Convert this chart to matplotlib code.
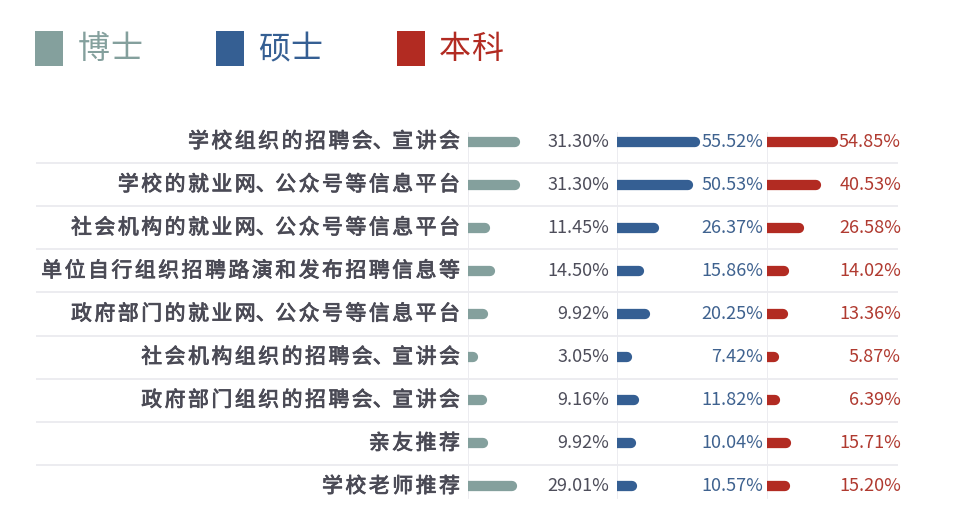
import matplotlib
matplotlib.use("Agg")
import matplotlib.pyplot as plt
from matplotlib.patches import Rectangle
import matplotlib.transforms as mtransforms
import matplotlib.patheffects as pe

plt.rcParams['font.family'] = ['Noto Sans CJK SC', 'DejaVu Sans']

categories = ["学校组织的招聘会、宣讲会", "学校的就业网、公众号等信息平台", "社会机构的就业网、公众号等信息平台",
              "单位自行组织招聘路演和发布招聘信息等", "政府部门的就业网、公众号等信息平台", "社会机构组织的招聘会、宣讲会",
              "政府部门组织的招聘会、宣讲会", "亲友推荐", "学校老师推荐"]
series_names = ["博士", "硕士", "本科"]
boshi = [31.30, 31.30, 11.45, 14.50, 9.92, 3.05, 9.16, 9.92, 29.01]
shuoshi = [55.52, 50.53, 26.37, 15.86, 20.25, 7.42, 11.82, 10.04, 10.57]
benke = [54.85, 40.53, 26.58, 14.02, 13.36, 5.87, 6.39, 15.71, 15.20]

bar_colors = ["#84a09d", "#355f93", "#b22b22"]
val_colors = ["#4d4d5a", "#3f628f", "#b03a30"]
label_color = "#4a4a55"
grid_color = "#ebebef"

W, H = 960, 520
fig = plt.figure(figsize=(W / 100, H / 100), dpi=100)

def fx(x):
    return x / W

def fy(y):
    return 1 - y / H

n = len(categories)
top, bottom = 120, 508

# background axes for separators and labels
bg = fig.add_axes([fx(36), fy(bottom), fx(898) - fx(36), fy(top) - fy(bottom)])
bg.set_xlim(0, 1)
bg.set_ylim(n - 0.5, -0.5)
bg.axis('off')
for i in range(n - 1):
    bg.axhline(i + 0.5, color=grid_color, lw=1.3, zorder=0)

# category labels with letter spacing (per-character placement);
# the mark "、" is kept together with the character before it
trans = mtransforms.blended_transform_factory(fig.transFigure, bg.transData)
right_edge = 461.2
label_fx = [pe.withStroke(linewidth=0.6, foreground=label_color)]
for i, cat in enumerate(categories):
    pieces = []
    for ch in cat:
        if ch == '、' and pieces:
            pieces[-1] = (pieces[-1][0] + ch, pieces[-1][1] + 17.0)
        else:
            pieces.append((ch, 23.4))
    x_right = right_edge
    for text, slot in reversed(pieces):
        if len(text) == 1:
            cx = x_right - slot / 2
            bg.text(fx(cx), i, text, transform=trans, ha='center', va='center',
                    fontsize=15, color=label_color, path_effects=label_fx)
        else:
            bg.text(fx(x_right - slot + 1.2), i, text, transform=trans, ha='left', va='center',
                    fontsize=15, color=label_color, path_effects=label_fx)
        x_right -= slot

# panels
panels = [(468, 617, 1.5, boshi, 609), (617, 767, 1.4, shuoshi, 763), (767, 898, 1.2, benke, 901)]
vtop, vbot = 133, 498
for k, (x0, x1, scale, vals, vx) in enumerate(panels):
    ax = fig.add_axes([fx(x0), fy(bottom), fx(x1) - fx(x0), fy(top) - fy(bottom)])
    ax.set_xlim(0, (x1 - x0) / scale)
    ax.set_ylim(n - 0.5, -0.5)
    ax.axis('off')
    ax.axvline(0, ymin=(bottom - vbot) / (bottom - top), ymax=(bottom - vtop) / (bottom - top),
               color=grid_color, lw=1.3, zorder=0)
    t = mtransforms.blended_transform_factory(fig.transFigure, ax.transData)
    for i, v in enumerate(vals):
        ax.plot([0, v], [i, i], color=bar_colors[k], lw=7.4, solid_capstyle='round', zorder=2)
        ax.text(fx(vx), i, f"{v:.2f}%", transform=t, ha='right', va='center',
                fontsize=13, color=val_colors[k], clip_on=False)

# legend
legend_items = [(35, 80), (216, 260), (397, 441)]
for k, (sx, tx) in enumerate(legend_items):
    fig.patches.append(Rectangle((fx(sx), fy(66)), fx(28), 35 / H, transform=fig.transFigure,
                                 facecolor=bar_colors[k], edgecolor='none'))
    for j, ch in enumerate(series_names[k]):
        fig.text(fx(tx + 14 + j * 32), fy(49), ch, ha='center', va='center',
                 fontsize=23, color=bar_colors[k])

fig.savefig("out.png", dpi=100)
